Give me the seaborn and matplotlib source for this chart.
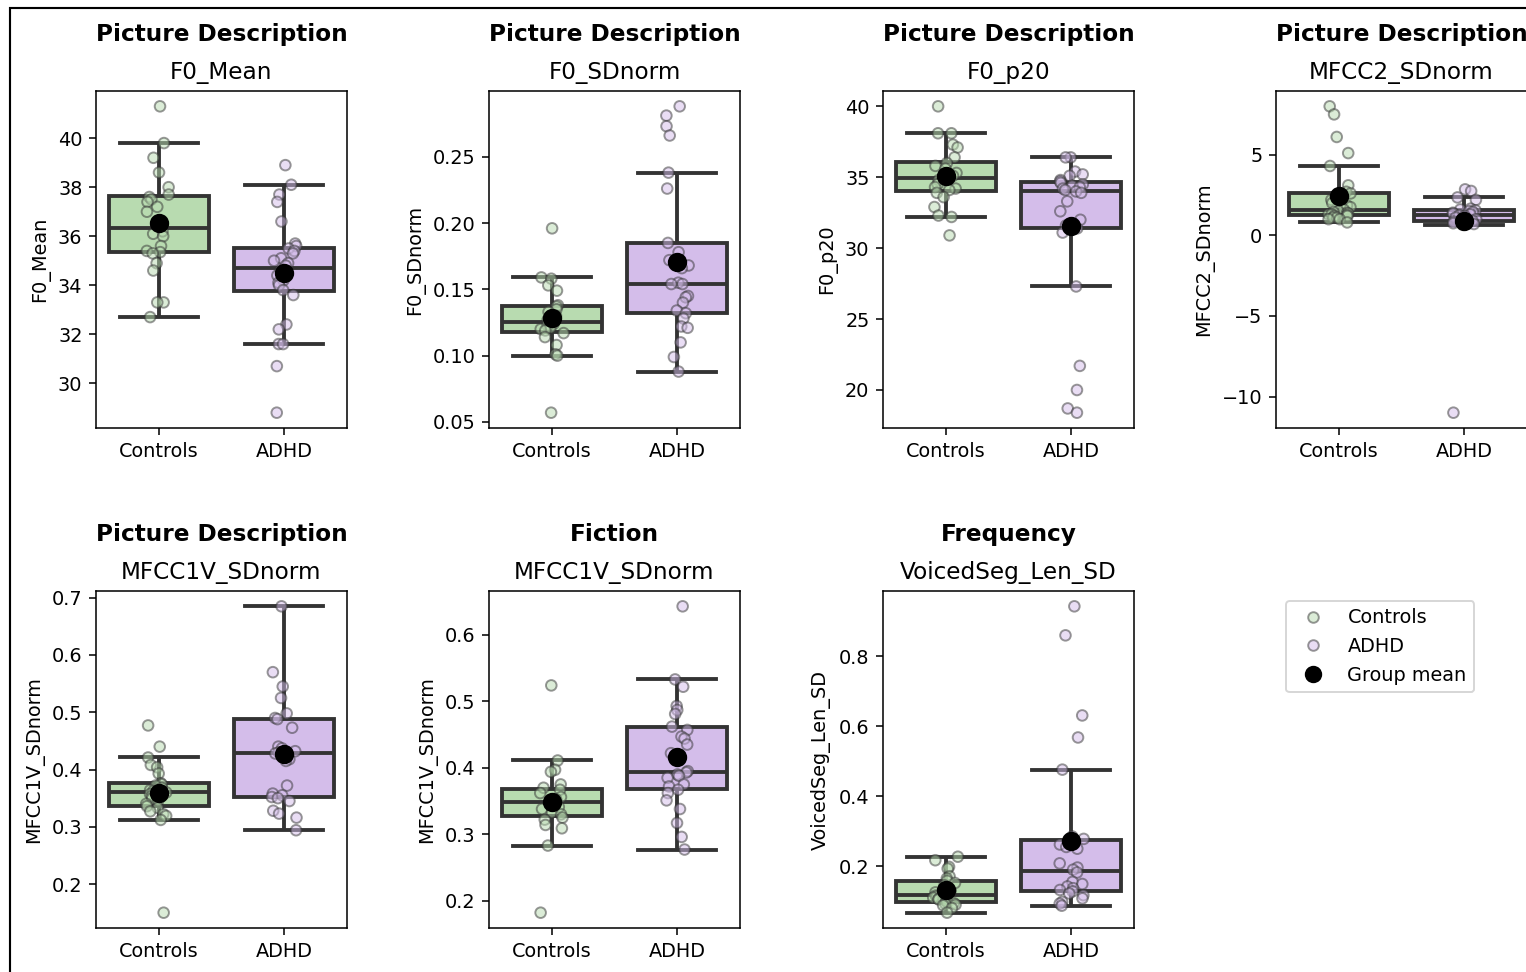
import numpy as np
import pandas as pd
import seaborn as sns
import matplotlib.pyplot as plt
from matplotlib.lines import Line2D
from matplotlib.patches import Rectangle

np.random.seed(3)

groups = ['Controls', 'ADHD']
palette = {'Controls': '#b8dbb0', 'ADHD': '#d4bdea'}

# --- data ---
f0_mean_ctrl = [41.3, 39.8, 39.2, 38.6, 38.0, 37.7, 37.6, 37.5, 37.4, 37.2, 37.0, 36.5,
                36.2, 36.1, 36.0, 35.6, 35.4, 35.35, 35.3, 34.9, 34.6, 33.3, 33.3, 32.7]
f0_mean_adhd = [38.9, 38.1, 37.7, 37.4, 36.6, 35.7, 35.6, 35.5, 35.4, 35.3, 35.1, 35.0, 34.9, 34.8,
                34.6, 34.4, 34.3, 34.2, 34.1, 34.0, 33.8, 33.6, 32.4, 32.2, 31.6, 31.6, 30.7, 28.8]

f0_sd_ctrl = [0.196, 0.159, 0.158, 0.153, 0.149, 0.138, 0.137, 0.135, 0.133, 0.130, 0.127,
              0.124, 0.123, 0.121, 0.120, 0.119, 0.117, 0.114, 0.108, 0.101, 0.100, 0.057]
f0_sd_adhd = [0.288, 0.281, 0.273, 0.266, 0.238, 0.226, 0.185, 0.178, 0.172, 0.168, 0.166, 0.155, 0.154,
              0.154, 0.145, 0.144, 0.140, 0.134, 0.132, 0.128, 0.122, 0.121, 0.110, 0.099, 0.088]

f0_p20_ctrl = [40.0, 38.1, 38.1, 37.3, 37.1, 36.4, 36.0, 35.8, 35.6, 35.3, 35.1, 35.0,
               34.9, 34.8, 34.5, 34.3, 34.2, 34.1, 33.9, 33.6, 32.9, 32.3, 32.2, 30.9]
f0_p20_adhd = [36.4, 36.4, 35.4, 35.2, 35.1, 34.8, 34.7, 34.6, 34.5, 34.4, 34.3, 34.2, 34.1,
               34.0, 33.9, 33.3, 32.6, 32.0, 31.6, 31.4, 31.1, 27.3, 21.7, 20.0, 18.7, 18.4]

mfcc2_ctrl = [8.0, 7.5, 6.1, 5.1, 4.3, 3.1, 2.7, 2.6, 2.4, 2.2, 2.0, 1.85, 1.75, 1.6,
              1.5, 1.45, 1.4, 1.35, 1.3, 1.3, 1.25, 1.2, 1.2, 1.1, 1.1, 1.0, 1.0, 0.8]
mfcc2_adhd = [2.85, 2.75, 2.35, 2.2, 1.65, 1.6, 1.55, 1.5, 1.45, 1.4, 1.35, 1.3,
              1.25, 1.2, 1.1, 1.0, 0.95, 0.9, 0.85, 0.8, 0.75, 0.7, 0.65, -11.0]

mfcc1v_pic_ctrl = [0.477, 0.440, 0.421, 0.408, 0.404, 0.393, 0.376, 0.374, 0.372, 0.368, 0.364, 0.362, 0.360,
                   0.357, 0.354, 0.350, 0.346, 0.340, 0.336, 0.333, 0.327, 0.322, 0.319, 0.312, 0.150]
mfcc1v_pic_adhd = [0.685, 0.570, 0.545, 0.525, 0.498, 0.490, 0.488, 0.473, 0.440, 0.437, 0.432, 0.430, 0.428,
                   0.418, 0.415, 0.372, 0.358, 0.355, 0.352, 0.350, 0.345, 0.328, 0.323, 0.316, 0.294]

mfcc1v_fic_ctrl = [0.524, 0.411, 0.397, 0.394, 0.375, 0.370, 0.367, 0.362, 0.356, 0.352, 0.350, 0.348,
                   0.345, 0.341, 0.338, 0.333, 0.330, 0.325, 0.322, 0.314, 0.309, 0.283, 0.182]
mfcc1v_fic_adhd = [0.643, 0.533, 0.522, 0.493, 0.487, 0.481, 0.462, 0.457, 0.447, 0.444, 0.435, 0.422, 0.395,
                   0.393, 0.390, 0.388, 0.385, 0.375, 0.372, 0.367, 0.362, 0.351, 0.338, 0.317, 0.296, 0.277]

voiced_ctrl = [0.227, 0.217, 0.198, 0.193, 0.171, 0.165, 0.158, 0.152, 0.145, 0.138, 0.130, 0.125, 0.120,
               0.116, 0.113, 0.110, 0.106, 0.105, 0.100, 0.096, 0.094, 0.092, 0.090, 0.088, 0.080, 0.067]
voiced_adhd = [0.943, 0.860, 0.631, 0.568, 0.476, 0.285, 0.278, 0.262, 0.255, 0.250, 0.208, 0.196, 0.190,
               0.182, 0.155, 0.149, 0.142, 0.137, 0.132, 0.128, 0.122, 0.117, 0.108, 0.098, 0.093, 0.087]

panels = [
    ('Picture Description', 'F0_Mean', f0_mean_ctrl, f0_mean_adhd),
    ('Picture Description', 'F0_SDnorm', f0_sd_ctrl, f0_sd_adhd),
    ('Picture Description', 'F0_p20', f0_p20_ctrl, f0_p20_adhd),
    ('Picture Description', 'MFCC2_SDnorm', mfcc2_ctrl, mfcc2_adhd),
    ('Picture Description', 'MFCC1V_SDnorm', mfcc1v_pic_ctrl, mfcc1v_pic_adhd),
    ('Fiction', 'MFCC1V_SDnorm', mfcc1v_fic_ctrl, mfcc1v_fic_adhd),
    ('Frequency', 'VoicedSeg_Len_SD', voiced_ctrl, voiced_adhd),
]

W, H = 1526, 972
fig = plt.figure(figsize=(W / 139, H / 139), dpi=139)
lefts = [96, 489, 883, 1276]
tops = [91, 591]
aw, ah = 251, 337

for i, (task, feat, ctrl, adhd) in enumerate(panels):
    r, c = divmod(i, 4)
    ax = fig.add_axes([lefts[c] / W, 1 - (tops[r] + ah) / H, aw / W, ah / H])
    df = pd.DataFrame({'group': ['Controls'] * len(ctrl) + ['ADHD'] * len(adhd),
                       'value': ctrl + adhd})
    sns.boxplot(data=df, x='group', y='value', hue='group', order=groups, palette=palette,
                saturation=1, width=0.8, showfliers=False, linewidth=2, linecolor='#333333',
                capwidths=0.62, legend=False, ax=ax)
    sns.stripplot(data=df, x='group', y='value', hue='group', order=groups, palette=palette,
                  jitter=0.1, size=5.5, alpha=0.5, edgecolor='#333333', linewidth=1,
                  legend=False, ax=ax)
    sns.pointplot(data=df, x='group', y='value', order=groups, estimator='mean', errorbar=None,
                  color='black', linestyle='none', markersize=8, zorder=10, ax=ax)
    ax.set_title(feat, fontsize=12)
    ax.annotate(task, xy=(0.5, 1), xycoords='axes fraction', xytext=(0, 26),
                textcoords='offset points', ha='center', va='baseline',
                fontsize=12, fontweight='bold')
    ax.set_xlabel('')
    ax.set_ylabel(feat)

# legend panel
lax = fig.add_axes([lefts[3] / W, 1 - (tops[1] + ah) / H, aw / W, ah / H])
lax.axis('off')
handles = [
    Line2D([], [], marker='o', ls='', markerfacecolor=palette['Controls'], markeredgecolor='#333333',
           alpha=0.5, markersize=5.5),
    Line2D([], [], marker='o', ls='', markerfacecolor=palette['ADHD'], markeredgecolor='#333333',
           alpha=0.5, markersize=5.5),
    Line2D([], [], marker='o', ls='', color='black', markersize=8),
]
lax.legend(handles, ['Controls', 'ADHD', 'Group mean'], loc='upper left', fontsize=10)

# frame around the figure (cut at right/bottom)
fig.add_artist(Rectangle((10 / W, -1), 2, 2 - 8 / H, transform=fig.transFigure,
                         fill=False, ec='black', lw=1.1))

fig.savefig('out.png', dpi=139)
